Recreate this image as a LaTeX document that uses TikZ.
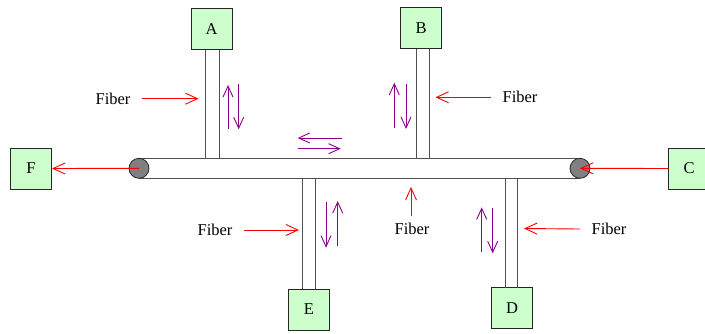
\documentclass[tikz,border=0pt]{standalone}
\usepackage{fontspec}
\setmainfont{Liberation Serif}
\usetikzlibrary{arrows.meta}
\definecolor{boxgreen}{HTML}{CCFFCC}
\definecolor{arrpurple}{HTML}{8B008B}
\definecolor{linegray}{HTML}{505050}
\begin{document}
\begin{tikzpicture}[x=1pt,y=-1pt,
  station/.style={draw=black!85,line width=1pt,fill=boxgreen,minimum width=41pt,minimum height=41pt,inner sep=0pt,font=\fontsize{16.5}{19}\selectfont},
  lbl/.style={inner sep=0pt,font=\fontsize{16.5}{19}\selectfont},
  stemline/.style={draw=linegray,line width=0.8pt},
  endcap/.style={circle,draw=black!85,line width=0.8pt,fill=gray,minimum size=20pt,inner sep=0pt},
  redarrow/.style={draw=red,line width=0.9pt,-{Straight Barb[length=12pt,width=11pt]}},
  purparrow/.style={draw=arrpurple,line width=0.9pt,-{Straight Barb[length=11pt,width=10pt]}}]
\useasboundingbox (0,0) rectangle (705,333);
\clip (0,0) rectangle (705,333);
% stations
\node[station] (A) at (211.5,29) {A};
\node[station] (B) at (421,28) {B};
\node[station] (C) at (689,168.5) {C};
\node[station] (D) at (512,308) {D};
\node[station] (E) at (309,309.5) {E};
\node[station] (F) at (31,168.5) {F};
% main bus
\coordinate (bl) at (139,168.3);
\coordinate (br) at (580,168.3);
\draw[stemline] (139,158) -- (580,158);
\draw[stemline] (139,178.7) -- (580,178.7);
\node[endcap] (cl) at (bl) {};
\node[endcap] (cr) at (br) {};
% stems
\draw[stemline] (205.7,49.7) -- (205.7,158);
\draw[stemline] (219,49.7) -- (219,158);
\draw[stemline] (416.3,48.5) -- (416.3,158);
\draw[stemline] (429,48.5) -- (429,158);
\draw[stemline] (302,178.7) -- (302,289);
\draw[stemline] (315,178.7) -- (315,289);
\draw[stemline] (505.3,178.7) -- (505.3,287.5);
\draw[stemline] (517,178.7) -- (517,287.5);
% end arrows
\draw[redarrow] (cl.center) -- (F.east);
\draw[redarrow] (C.west) -- (cr.center);
% fiber labels
\node[lbl] (f1) at (113,98.7) {Fiber};
\node[lbl] (f2) at (520,97.3) {Fiber};
\node[lbl] (f3) at (215,230) {Fiber};
\node[lbl] (f4) at (412,229) {Fiber};
\node[lbl] (f5) at (609,229) {Fiber};
\coordinate (t1) at (198.5,98.7);
\coordinate (t2) at (435.5,97.3);
\coordinate (t3) at (299,230);
\coordinate (t4) at (411,187);
\coordinate (t5) at (524,228.5);
\draw[redarrow] ([xshift=11pt]f1.east) -- (t1);
\draw[redarrow] ([xshift=-11pt]f2.west) -- (t2);
\draw[redarrow] ([xshift=11pt]f3.east) -- (t3);
\draw[redarrow] (411,216) -- (t4);
\draw[redarrow] ([xshift=-11pt]f5.west) -- (t5);
% purple direction arrows
\draw[purparrow] (228,129.3) -- (228,85);
\draw[purparrow] (238.7,84) -- (238.7,129.3);
\draw[purparrow] (342,138) -- (297.7,138);
\draw[purparrow] (297.7,148.7) -- (340.7,148.7);
\draw[purparrow] (394.3,127.7) -- (394.3,82.7);
\draw[purparrow] (406,84) -- (406,129);
\draw[purparrow] (326,202.3) -- (326,247.7);
\draw[purparrow] (337.7,246) -- (337.7,201);
\draw[purparrow] (481.7,252.3) -- (481.7,207.3);
\draw[purparrow] (492.7,208.3) -- (492.7,253.3);
\end{tikzpicture}
\end{document}
